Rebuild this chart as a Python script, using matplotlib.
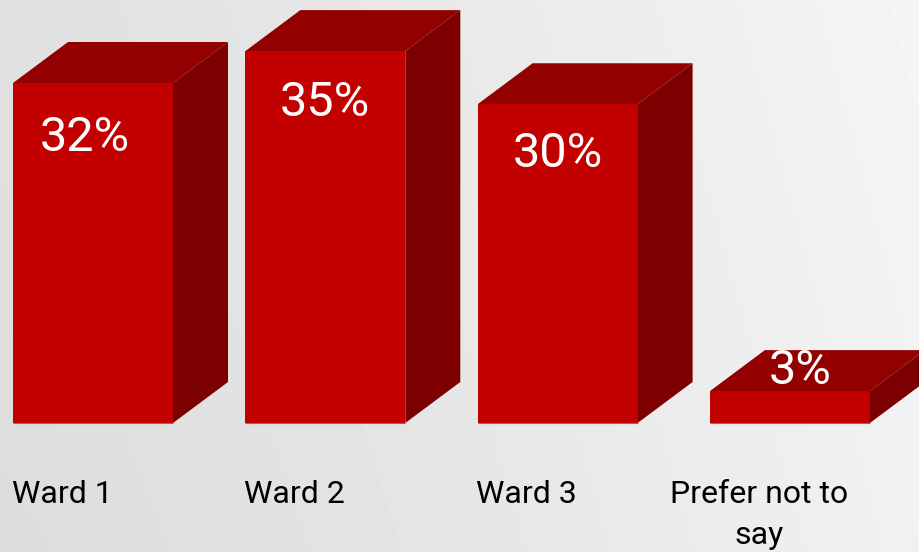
#plot.py
import numpy as np
from matplotlib import pyplot as plt
from matplotlib.patches import Polygon

categories = ['Ward 1', 'Ward 2', 'Ward 3', 'Prefer not to\nsay']
values = [32, 35, 30, 3]
value_labels = ['32%', '35%', '30%', '3%']

# pixel layout of the reference
WIDTH, HEIGHT = 920, 552
BASE_Y = 423
PX_PER_PCT = 10.625
PX_PER_CAT = 232.3
FIRST_X = 93
BAR_W = 160 / PX_PER_CAT
DEPTH_X = 55 / PX_PER_CAT
DEPTH_Y = 41 / PX_PER_PCT

# offsets of the value labels from the bar top centre, in px
label_dx = [-8, 0, 0, 10]
label_dy = [-68, -65, -63, 7]

plt.rcParams['font.family'] = ['Roboto', 'DejaVu Sans']

fig = plt.figure(figsize=(WIDTH / 100, HEIGHT / 100), dpi=100)
ax = fig.add_axes([0, 0, 1, 1])
xlim = (-FIRST_X / PX_PER_CAT, (WIDTH - FIRST_X) / PX_PER_CAT)
ylim = (-(HEIGHT - BASE_Y) / PX_PER_PCT, BASE_Y / PX_PER_PCT)

# background gradient, lightest on the right, darker to the lower left
xx, yy = np.meshgrid(np.linspace(0, 1, 230), np.linspace(0, 1, 138))
shade = 0.865 + 0.08 * xx ** 1.2 + 0.015 * (1 - yy)
ax.imshow(shade, cmap='gray', vmin=0, vmax=1, extent=(*xlim, *ylim), origin='upper',
          aspect='auto', zorder=0, interpolation='bilinear')

edge = '#8a6a6a'
for i, v in enumerate(values):
    l, r = i - BAR_W / 2, i + BAR_W / 2
    ax.add_patch(Polygon([(l, v), (r, v), (r + DEPTH_X, v + DEPTH_Y), (l + DEPTH_X, v + DEPTH_Y)],
                         facecolor='#920000', edgecolor='none', zorder=2))
    ax.add_patch(Polygon([(r, 0), (r + DEPTH_X, DEPTH_Y), (r + DEPTH_X, v + DEPTH_Y), (r, v)],
                         facecolor='#7c0000', edgecolor='none', zorder=2))

ax.bar(range(len(values)), values, width=BAR_W, color='#c20000', edgecolor='none', zorder=3)
# thin grey line along the base of each front face
ax.hlines([0] * len(values), np.arange(len(values)) - BAR_W / 2, np.arange(len(values)) + BAR_W / 2,
          color=edge, linewidth=0.8, zorder=3)

for i, v in enumerate(values):
    ax.annotate(value_labels[i], (i, v), xytext=(label_dx[i] * 0.72, label_dy[i] * 0.72),
                textcoords='offset points', ha='center', va='baseline', color='white',
                fontsize=35, zorder=4)
    ax.annotate(categories[i], (i, 0), xytext=(-31 * 0.72, -57 * 0.72), textcoords='offset points',
                ha='center', va='top', color='black', fontsize=23, linespacing=1.5, zorder=4)

ax.set_xlim(*xlim)
ax.set_ylim(*ylim)
ax.axis('off')
fig.savefig('out.png', dpi=100)
